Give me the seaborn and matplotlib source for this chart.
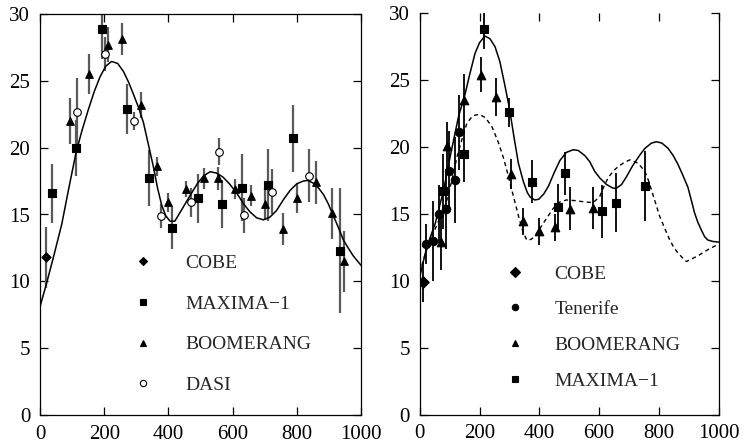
import matplotlib
matplotlib.use('Agg')
import matplotlib.pyplot as plt
import seaborn as sns
from matplotlib.lines import Line2D

# ---------------- data: left panel ----------------
L_cobe_l = [18]
L_cobe_v = [11.8]
L_cobe_e = [2.3]

L_max_l = [36, 112, 193, 271, 340, 410, 492, 566, 630, 709, 787, 935]
L_max_v = [16.6, 20.0, 28.9, 22.9, 17.7, 14.0, 16.2, 15.8, 17.0, 17.2, 20.7, 12.3]
L_max_e = [2.2, 2.1, 2.3, 1.9, 2.1, 1.6, 1.8, 1.8, 2.5, 2.7, 2.5, 4.7]

L_boom_l = [94, 153, 213, 257, 315, 364, 399, 455, 512, 556, 608, 656, 701, 756, 802, 861, 909, 948]
L_boom_v = [22.0, 25.5, 27.7, 28.1, 23.2, 18.6, 15.9, 16.9, 17.7, 17.7, 16.9, 16.4, 15.8, 13.9, 16.2, 17.4, 15.1, 11.5]
L_boom_e = [1.7, 1.5, 1.3, 1.2, 1.0, 0.7, 0.7, 0.6, 0.8, 0.85, 0.75, 0.8, 1.2, 1.2, 1.1, 1.6, 1.9, 2.3]

L_dasi_l = [116, 203, 292, 377, 470, 558, 637, 723, 839]
L_dasi_v = [22.7, 27.0, 22.0, 14.9, 15.9, 19.7, 14.95, 16.7, 17.9]
L_dasi_e = [2.5, 1.3, 0.7, 0.9, 1.1, 1.0, 1.3, 1.7, 2.0]

L_curve_l = [0, 21, 45, 68, 90, 112, 131, 150, 169, 187, 205, 223, 242, 260, 276, 291, 307,
             322, 338, 353, 366, 379, 392, 405, 420, 440, 467, 490, 510, 530, 550, 570, 590,
             613, 634, 654, 675, 696, 716, 737, 758, 779, 800, 820, 835, 851, 867, 883, 898,
             914, 930, 945, 960, 976, 1000]
L_curve_v = [8.1, 9.9, 12.1, 14.3, 17.0, 19.6, 21.3, 22.8, 24.2, 25.3, 26.1, 26.45, 26.3, 25.7,
             24.9, 24.0, 23.0, 21.9, 20.2, 18.6, 17.0, 15.7, 14.9, 14.5, 14.5, 15.3, 16.4, 17.3,
             17.9, 18.2, 18.1, 17.8, 17.3, 16.6, 15.8, 15.2, 14.75, 14.6, 14.8, 15.3, 16.1,
             16.8, 17.3, 17.5, 17.55, 17.35, 17.0, 16.5, 15.8, 14.9, 14.0, 13.1, 12.5, 11.9, 11.2]

# ---------------- data: right panel ----------------
R_cobe_l = [12]
R_cobe_v = [9.9]
R_cobe_e = [1.5]

R_ten_l = [22, 44, 63, 88, 97, 119, 131]
R_ten_v = [12.75, 13.0, 15.0, 15.4, 18.2, 17.55, 21.1]
R_ten_e = [1.5, 3.0, 2.2, 3.0, 3.0, 3.2, 2.8]

R_boom_l = [71, 91, 149, 205, 255, 306, 347, 398, 453, 502, 579]
R_boom_v = [12.9, 20.1, 23.5, 25.4, 23.75, 18.0, 14.45, 13.7, 14.0, 15.4, 15.45]
R_boom_e = [2.1, 1.8, 2.0, 1.3, 1.4, 1.1, 1.0, 1.0, 1.0, 1.6, 1.6]

R_max_l = [77, 149, 216, 299, 377, 464, 487, 611, 658, 754]
R_max_v = [16.7, 19.5, 28.8, 22.6, 17.4, 15.55, 18.05, 15.2, 15.85, 17.1]
R_max_e = [2.8, 2.1, 1.5, 1.1, 1.6, 1.7, 1.6, 2.0, 2.2, 2.6]

R_solid_l = [0, 24, 52, 80, 102, 130, 151, 168, 185, 200, 218, 235, 252, 268, 285, 300, 315,
             330, 347, 360, 370, 385, 398, 415, 431, 450, 469, 490, 513, 530, 553, 569, 585,
             602, 625, 645, 656, 675, 692, 712, 736, 753, 775, 792, 810, 831, 847, 864, 880,
             897, 910, 919, 930, 942, 953, 964, 980, 1000]
R_solid_v = [10.3, 12.55, 14.3, 16.8, 19.3, 22.3, 23.9, 25.5, 27.0, 27.8, 28.3, 28.1, 27.5, 26.4,
             24.6, 22.9, 20.8, 18.8, 17.4, 16.6, 16.25, 16.05, 16.1, 16.5, 17.1, 18.1, 19.0,
             19.6, 19.8, 19.75, 19.35, 18.9, 18.2, 17.7, 17.2, 16.95, 16.9, 17.2, 17.8, 18.6,
             19.4, 19.9, 20.3, 20.4, 20.3, 19.9, 19.4, 18.7, 17.9, 17.0, 15.9, 15.1, 14.4, 13.8,
             13.3, 13.05, 12.95, 12.9]

R_dash_l = [0, 19, 41, 69, 91, 108, 125, 141, 158, 178, 199, 220, 242, 264, 280, 291, 308, 331,
            345, 358, 372, 386, 413, 446, 469, 491, 520, 553, 580, 602, 615, 630, 647, 664, 684,
            703, 730, 753, 765, 775, 789, 803, 820, 836, 850, 864, 878, 892, 915, 936, 965, 1000]
R_dash_v = [10.6, 12.07, 13.3, 14.8, 16.05, 17.55, 19.3, 20.55, 21.8, 22.35, 22.45, 22.2, 21.5,
            20.3, 19.2, 18.3, 16.8, 14.8, 13.7, 13.05, 13.1, 13.35, 14.3, 15.4, 15.9, 16.05, 16.0,
            15.9, 15.85, 16.3, 17.0, 17.7, 18.2, 18.55, 18.85, 19.05, 18.8, 18.2, 17.5, 16.8,
            15.8, 14.8, 13.9, 13.07, 12.5, 12.07, 11.75, 11.45, 11.7, 11.95, 12.35, 12.75]

legend_L = ['COBE', 'MAXIMA\u22121', 'BOOMERANG', 'DASI']
legend_R = ['COBE', 'Tenerife', 'BOOMERANG', 'MAXIMA\u22121']

# ---------------- style ----------------
sns.set_style('ticks')
plt.rcParams['font.family'] = ['Liberation Serif', 'DejaVu Serif']
plt.rcParams['axes.linewidth'] = 0.9

fig = plt.figure(figsize=(7.44, 4.48), dpi=100)
axL = fig.add_axes([40 / 744, 33 / 448, 321 / 744, 401 / 448])
axR = fig.add_axes([419.7 / 744, 33.3 / 448, 299 / 744, 401.4 / 448])


def pts(ax, l, v, e, marker, s, face, ecol, elw):
    ax.errorbar(l, v, yerr=e, fmt='none', ecolor=ecol, elinewidth=elw, capsize=0, zorder=2)
    sns.scatterplot(x=l, y=v, marker=marker, s=s, facecolor=face, edgecolor='black',
                    linewidth=0.8, ax=ax, zorder=3, legend=False)


# left panel
sns.lineplot(x=L_curve_l, y=L_curve_v, ax=axL, color='black', lw=1.1, sort=False,
             estimator=None, zorder=4)
gray = '#5a5a5a'
pts(axL, L_cobe_l, L_cobe_v, L_cobe_e, 'D', 22, 'black', gray, 1.6)
pts(axL, L_max_l, L_max_v, L_max_e, 's', 26, 'black', gray, 1.6)
pts(axL, L_boom_l, L_boom_v, L_boom_e, '^', 30, 'black', gray, 1.6)
pts(axL, L_dasi_l, L_dasi_v, L_dasi_e, 'o', 30, 'white', gray, 1.6)

# right panel
sns.lineplot(x=R_solid_l, y=R_solid_v, ax=axR, color='black', lw=1.1, sort=False,
             estimator=None, zorder=4)
sns.lineplot(x=R_dash_l, y=R_dash_v, ax=axR, color='black', lw=1.0, sort=False,
             estimator=None, zorder=4, dashes=False, linestyle=(0, (3, 2.5)))
pts(axR, R_cobe_l, R_cobe_v, R_cobe_e, 'D', 34, 'black', 'black', 1.3)
pts(axR, R_ten_l, R_ten_v, R_ten_e, 'o', 36, 'black', 'black', 1.3)
pts(axR, R_boom_l, R_boom_v, R_boom_e, '^', 38, 'black', 'black', 1.3)
pts(axR, R_max_l, R_max_v, R_max_e, 's', 36, 'black', 'black', 1.3)

for ax in (axL, axR):
    ax.set_xlim(0, 1000)
    ax.set_ylim(0, 30)
    ax.set_xticks(range(0, 1001, 200))
    ax.set_yticks(range(0, 31, 5))
    ax.tick_params(direction='in', length=6, width=0.9, top=True, right=True,
                   labelsize=15, pad=7, colors='black')
    ax.set_xlabel('')
    ax.set_ylabel('')
    for sp in ax.spines.values():
        sp.set_visible(True)
        sp.set_color('black')
axR.spines['top'].set_visible(False)


def handles(markers, faces):
    return [Line2D([], [], ls='none', marker=m, ms=ms, mfc=f, mec='black', mew=0.8)
            for (m, ms), f in zip(markers, faces)]


hL = handles([('D', 4.2), ('s', 4.2), ('^', 4.5), ('o', 4.5)], ['black', 'black', 'black', 'white'])
axL.legend(hL, legend_L, loc='upper left', bbox_to_anchor=(0.2906, 0.40), frameon=False,
           fontsize=14, handlelength=1.0, handletextpad=1.66, labelspacing=1.18,
           borderpad=0, borderaxespad=0)
hR = handles([('D', 5.2), ('o', 4.6), ('^', 4.6), ('s', 4.6)], ['black'] * 4)
axR.legend(hR, legend_R, loc='upper left', bbox_to_anchor=(0.287, 0.373), frameon=False,
           fontsize=14, handlelength=1.0, handletextpad=1.53, labelspacing=0.93,
           borderpad=0, borderaxespad=0)

fig.savefig('out.png', dpi=100)
